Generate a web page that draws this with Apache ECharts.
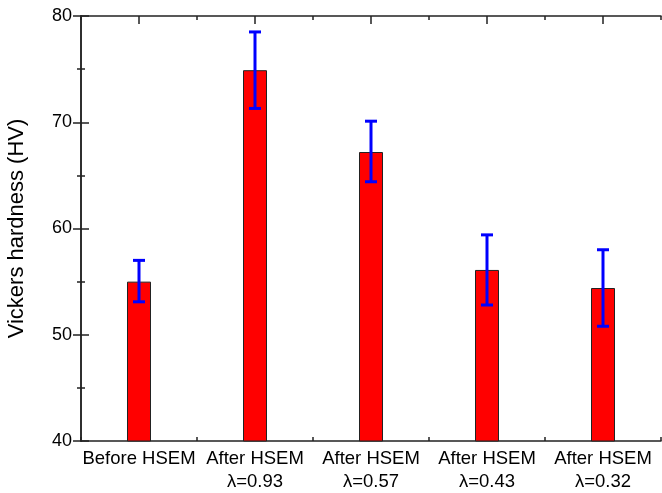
<!DOCTYPE html>
<html>
<head>
<meta charset="utf-8">
<script src="https://cdn.jsdelivr.net/npm/echarts@6/dist/echarts.min.js"></script>
<style>
  html, body { margin: 0; padding: 0; background: #fff; }
  #chart { width: 662px; height: 493px; }
</style>
</head>
<body>
<div id="chart"></div>
<script>
// values
const categories = ['Before HSEM', 'After HSEM\nλ=0.93', 'After HSEM\nλ=0.57', 'After HSEM\nλ=0.43', 'After HSEM\nλ=0.32'];
const hardness = [55.0, 74.9, 67.2, 56.1, 54.4];
const errLow = [53.1, 71.3, 64.4, 52.8, 50.8];
const errHigh = [57.0, 78.5, 70.1, 59.4, 58.0];
const yTicks = { min: 40, max: 80, interval: 10 };

const font = 'Liberation Sans, Arial, sans-serif';
const axisColor = '#222';

const chart = echarts.init(document.getElementById('chart'));

const errData = categories.map(function (c, i) {
    return [i, errLow[i], errHigh[i]];
});

const catAxis = function (pos, labels) {
    return {
        type: 'category',
        position: pos,
        data: categories,
        axisLine: { show: true, lineStyle: { color: axisColor, width: 1.5 } },
        axisTick: { show: true, inside: true, alignWithLabel: true, interval: 0, length: 8, lineStyle: { color: axisColor, width: 1.5 } },
        axisLabel: {
            show: labels,
            interval: 0,
            color: '#000',
            fontFamily: font,
            fontSize: 18.5,
            lineHeight: 23,
            margin: 6
        },
        splitLine: { show: false }
    };
};

const boundAxis = function (pos) {
    return {
        type: 'value',
        position: pos,
        min: 0,
        max: categories.length,
        interval: 1,
        axisLine: { show: false },
        axisTick: { show: true, inside: true, length: 4, lineStyle: { color: axisColor, width: 1.5 } },
        axisLabel: { show: false },
        splitLine: { show: false }
    };
};

const valAxis = function (pos, labels) {
    return {
        type: 'value',
        position: pos,
        min: yTicks.min,
        max: yTicks.max,
        interval: yTicks.interval,
        name: labels ? 'Vickers hardness (HV)' : '',
        nameLocation: 'middle',
        nameGap: 53,
        nameTextStyle: { color: '#000', fontFamily: font, fontSize: 22 },
        axisLine: { show: true, lineStyle: { color: axisColor, width: 1.5 } },
        axisTick: { show: true, inside: true, length: 8, lineStyle: { color: axisColor, width: 1.5 } },
        minorTick: { show: true, splitNumber: 2, length: 4, lineStyle: { color: axisColor, width: 1.5 } },
        axisLabel: { show: labels, color: '#000', fontFamily: font, fontSize: 18, margin: 9 },
        splitLine: { show: false }
    };
};

const option = {
    animation: false,
    backgroundColor: '#fff',
    grid: { left: 81, right: 1, top: 16, bottom: 52, outerBoundsMode: 'none', containLabel: false },
    xAxis: [catAxis('bottom', true), catAxis('top', false), boundAxis('bottom'), boundAxis('top')],
    yAxis: [valAxis('left', true), valAxis('right', false)],
    series: [
        {
            type: 'bar',
            xAxisIndex: 0,
            yAxisIndex: 0,
            data: hardness,
            barWidth: 24,
            itemStyle: { color: '#ff0000', borderColor: '#222', borderWidth: 1 }
        },
        {
            type: 'custom',
            xAxisIndex: 0,
            yAxisIndex: 0,
            data: errData,
            z: 10,
            renderItem: function (params, api) {
                const x = api.value(0);
                const lo = api.coord([x, api.value(1)]);
                const hi = api.coord([x, api.value(2)]);
                const cap = 6;
                const style = { stroke: '#0000ff', lineWidth: 3 };
                return {
                    type: 'group',
                    children: [
                        { type: 'line', shape: { x1: hi[0], y1: hi[1], x2: lo[0], y2: lo[1] }, style: style },
                        { type: 'line', shape: { x1: hi[0] - cap, y1: hi[1], x2: hi[0] + cap, y2: hi[1] }, style: style },
                        { type: 'line', shape: { x1: lo[0] - cap, y1: lo[1], x2: lo[0] + cap, y2: lo[1] }, style: style }
                    ]
                };
            }
        }
    ]
};

chart.setOption(option);

window.addEventListener('resize', function () {
    chart.resize();
});
</script>
</body>
</html>
